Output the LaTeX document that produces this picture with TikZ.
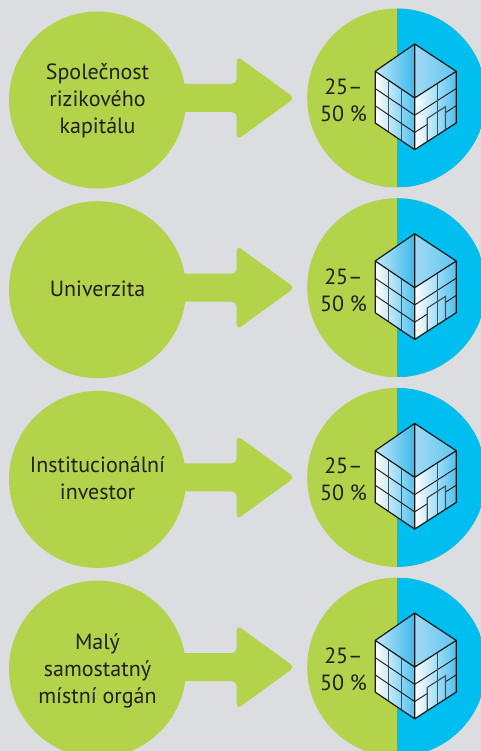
\documentclass[tikz,border=0pt]{standalone}
\usepackage{fontspec}
\setmainfont{PT Sans}
\definecolor{bgc}{RGB}{220,221,225}
\definecolor{grn}{RGB}{178,211,74}
\definecolor{blu}{RGB}{0,190,240}
\definecolor{txt}{RGB}{35,31,32}
\definecolor{tA}{RGB}{196,232,248}
\definecolor{tB}{RGB}{60,185,236}
\definecolor{tC}{RGB}{160,217,244}
\definecolor{tD}{RGB}{95,198,240}
\definecolor{fB}{RGB}{80,192,238}
\definecolor{edgec}{RGB}{26,26,26}
\definecolor{gridc}{RGB}{70,80,88}
\newcommand\ls{\rule[-6pt]{0pt}{26pt}}
\tikzset{
  lbl/.style={font=\fontsize{22}{27}\selectfont, text=txt, align=center, inner sep=0pt},
  leftc/.style={circle, fill=grn, minimum size=177pt, inner sep=0pt},
  rightc/.style={circle, fill=grn, minimum size=179pt, inner sep=0pt,
    path picture={\fill[blu] (path picture bounding box.north) rectangle (path picture bounding box.south east);}},
  arrowfill/.style={fill=grn, rounded corners=5pt},
  edge/.style={draw=edgec, line width=1.2pt, line join=round},
  gridd/.style={draw=edgec, line width=0.9pt},
  gridl/.style={draw=gridc, line width=1.2pt},
  building/.pic={
    \shade[left color=tA, right color=tB] (18,-54) -- (-21.5,-26.7) -- (18,0) -- cycle;
    \shade[left color=tC, right color=tD] (18,-54) -- (18,0) -- (59.5,-26.7) -- cycle;
    \shade[left color=white, right color=fB] (-21.5,-26.7) -- (18,0) -- (18,51.7) -- (-21.5,25) -- cycle;
    \shade[left color=white, right color=fB] (18,0) -- (59.5,-26.7) -- (59.5,25) -- (18,51.7) -- cycle;
    \path[gridl] (-8.33,-17.8) -- (-8.33,33.9) (4.83,-8.9) -- (4.83,42.8);
    \path[gridd] (-21.5,-9.47) -- (18,17.23) (-21.5,7.77) -- (18,34.47)
       (18,17.23) -- (59.5,-9.47) (18,34.47) -- (30.45,26.46) (48.71,14.71) -- (59.5,7.77);
    \path[gridl] (40.62,-14.55) -- (40.62,37.15);
    \path[gridl] (30.45,43.69) -- (30.45,20.43) -- (48.71,8.68) -- (48.71,31.94);
    \path[edge] (18,-54) -- (-21.5,-26.7) -- (-21.5,25) -- (18,51.7) -- (59.5,25) -- (59.5,-26.7) -- cycle
       (-21.5,-26.7) -- (18,0) -- (59.5,-26.7) (18,-54) -- (18,0) -- (18,51.7);
  }
}
\begin{document}
\begin{tikzpicture}[x=1pt,y=-1pt]
\useasboundingbox (0,0) rectangle (481,751);
\clip (0,0) rectangle (481,751);
\fill[bgc] (0,0) rectangle (481,751);
\foreach \i/\c/\t in {1/98/{\ls Společnost\\\ls rizikového\\\ls kapitálu},
                      2/287.7/{\ls Univerzita},
                      3/477.4/{\ls Institucionální\\\ls investor},
                      4/667.1/{\ls Malý\\\ls samostatný\\\ls místní orgán}}{
  \node[rightc] (R\i) at (396.7,\c) {};
  \fill[arrowfill] ([shift={(-227,-14)}]R\i.center) -- ++(67,0) -- ++(0,-28) -- ++(58,42)
     -- ++(-58,42) -- ++(0,-28) -- ++(-67,0) -- cycle;
  \node[leftc] (L\i) at (97.5,\c+2) {};
  \node[lbl] (T\i) at (L\i.center) {\t};
  \pic at (R\i.center) {building};
  \node[lbl] (P\i) at ([shift={(-53.2,3)}]R\i.center) {\ls 25–\\\ls 50 \%};
}
\end{tikzpicture}
\end{document}
